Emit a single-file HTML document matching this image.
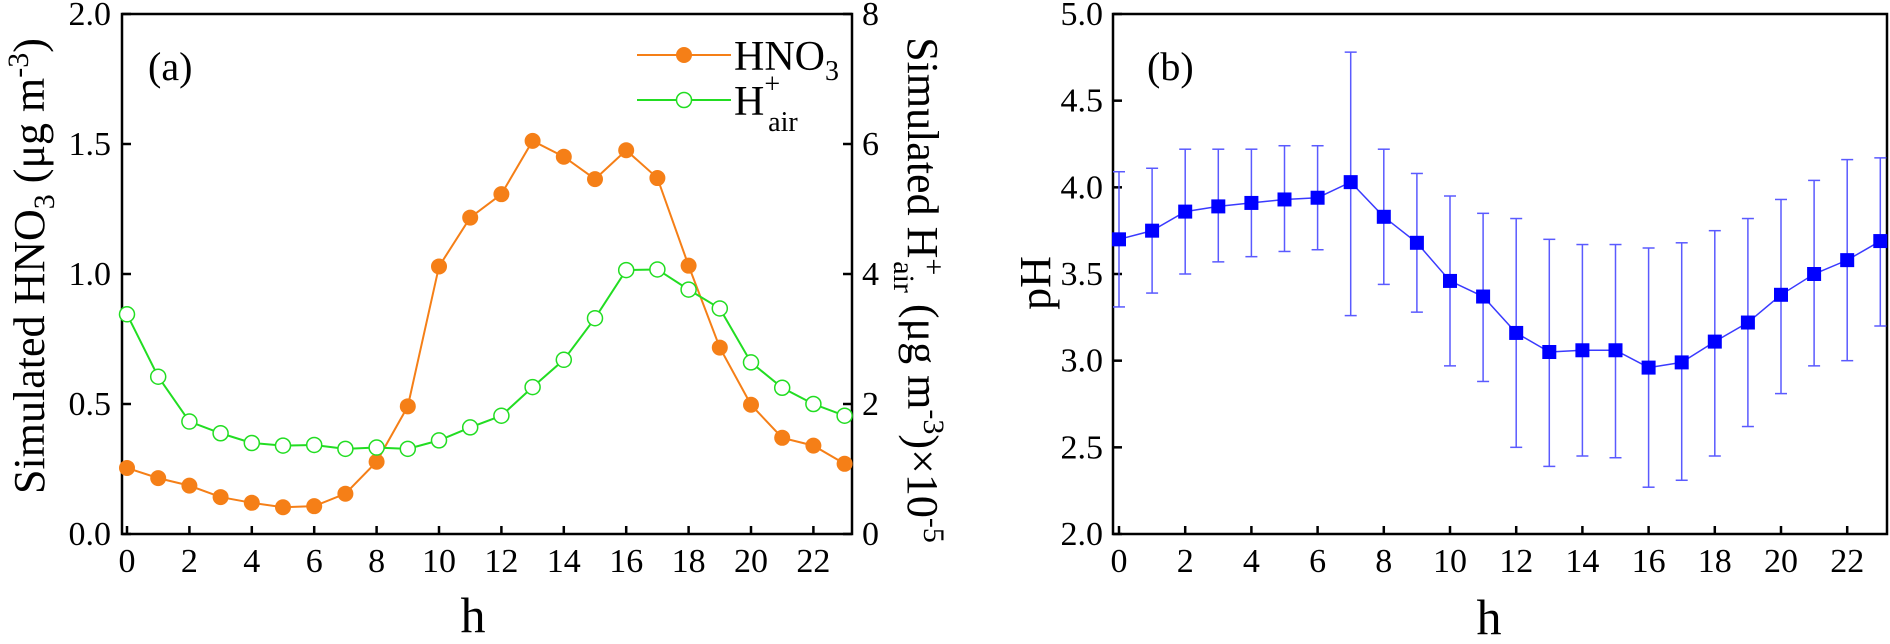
<!DOCTYPE html>
<html><head><meta charset="utf-8"><style>
html,body{margin:0;padding:0;background:#fff;}
svg{display:block;font-family:"Liberation Serif",serif;}
</style></head><body>
<svg id="fig" width="1890" height="644" viewBox="0 0 1890 644" xmlns="http://www.w3.org/2000/svg"></svg>
<script>
const hours = [0,1,2,3,4,5,6,7,8,9,10,11,12,13,14,15,16,17,18,19,20,21,22,23];
const hno3 = [0.254,0.215,0.186,0.142,0.12,0.103,0.107,0.155,0.278,0.491,1.029,1.217,1.307,1.512,1.451,1.365,1.476,1.369,1.032,0.717,0.497,0.37,0.34,0.27];
const hair = [3.38,2.42,1.73,1.55,1.40,1.36,1.37,1.31,1.33,1.31,1.44,1.64,1.82,2.26,2.68,3.32,4.06,4.07,3.76,3.47,2.64,2.25,2.00,1.82];
const ph = [3.70,3.75,3.86,3.89,3.91,3.93,3.94,4.03,3.83,3.68,3.46,3.37,3.16,3.05,3.06,3.06,2.96,2.99,3.11,3.22,3.38,3.50,3.58,3.69];
const phHigh = [4.09,4.11,4.22,4.22,4.22,4.24,4.24,4.78,4.22,4.08,3.95,3.85,3.82,3.70,3.67,3.67,3.65,3.68,3.75,3.82,3.93,4.04,4.16,4.17];
const phLow = [3.31,3.39,3.50,3.57,3.60,3.63,3.64,3.26,3.44,3.28,2.97,2.88,2.50,2.39,2.45,2.44,2.27,2.31,2.45,2.62,2.81,2.97,3.00,3.20];
const xTicks = [0,2,4,6,8,10,12,14,16,18,20,22];
const yTicksA = [0.0,0.5,1.0,1.5,2.0];
const yTicksA2 = [0,2,4,6,8];
const yTicksB = [2.0,2.5,3.0,3.5,4.0,4.5,5.0];

const NS="http://www.w3.org/2000/svg";
const svg=document.getElementById('fig');
function mk(tag,attrs,parent){const e=document.createElementNS(NS,tag);for(const k in attrs)e.setAttribute(k,attrs[k]);(parent||svg).appendChild(e);return e;}

// panel a scales
const aL=122,aR=852,aT=14,aB=534;
const ax=h=>127+h*31.2;
const ay=v=>aB-(v/2)*(aB-aT);
const ay2=v=>aB-(v/8)*(aB-aT);
// panel b scales
const bL=1113,bR=1887;
const bx=h=>1119+h*33.1;
const by=v=>aB-((v-2)/3)*(aB-aT);

// panel a
const gA=mk('g',{});


let fr=mk('rect',{x:aL,y:aT,width:aR-aL,height:aB-aT,fill:'none',stroke:'#000','stroke-width':2.5},gA);

xTicks.forEach(t=>{mk('line',{x1:ax(t),x2:ax(t),y1:aB,y2:aB-8,stroke:'#000','stroke-width':2.5},gA);
 const tx=mk('text',{x:ax(t),y:572,'font-size':34,'text-anchor':'middle'},gA);tx.textContent=t;
 });
yTicksA.forEach(t=>{mk('line',{x1:aL,x2:aL+9,y1:ay(t),y2:ay(t),stroke:'#000','stroke-width':2.5},gA);
 const tx=mk('text',{x:111,y:ay(t)+11,'font-size':34,'text-anchor':'end'},gA);tx.textContent=t.toFixed(1);
 });
yTicksA2.forEach(t=>{mk('line',{x1:aR,x2:aR-9,y1:ay2(t),y2:ay2(t),stroke:'#000','stroke-width':2.5},gA);
 const tx=mk('text',{x:862,y:ay2(t)+11,'font-size':34},gA);tx.textContent=t;
 });
// series
let p1=mk('polyline',{points:hours.map((h,i)=>ax(h)+','+ay(hno3[i])).join(' '),fill:'none',stroke:'#f57f17','stroke-width':2},gA);

let p2=mk('polyline',{points:hours.map((h,i)=>ax(h)+','+ay2(hair[i])).join(' '),fill:'none',stroke:'#22dd22','stroke-width':2},gA);

hours.forEach((h,i)=>{const c=mk('circle',{cx:ax(h),cy:ay(hno3[i]),r:8,fill:'#f57f17'},gA);
 });
hours.forEach((h,i)=>{const c=mk('circle',{cx:ax(h),cy:ay2(hair[i]),r:7.5,fill:'#fff',stroke:'#22dd22','stroke-width':1.5},gA);
 });
// labels
let t=mk('text',{x:148,y:80,'font-size':40},gA);t.textContent='(a)';
// legend
let lg=mk('g',{},gA);
mk('line',{x1:637,x2:731,y1:55,y2:55,stroke:'#f57f17','stroke-width':2},lg);
mk('circle',{cx:684,cy:55,r:8,fill:'#f57f17'},lg);
t=mk('text',{x:734,y:70,'font-size':42},lg);t.innerHTML='HNO<tspan font-size="28" dy="10">3</tspan>';

mk('line',{x1:637,x2:731,y1:100,y2:100,stroke:'#22dd22','stroke-width':2},lg);
mk('circle',{cx:684,cy:100,r:7.5,fill:'#fff',stroke:'#22dd22','stroke-width':1.5},lg);
t=mk('text',{x:734,y:115,'font-size':42},lg);t.innerHTML='H<tspan font-size="28" dy="-22">+</tspan><tspan font-size="28" dx="-12" dy="38">air</tspan>';

// axis titles
t=mk('text',{x:0,y:0,'font-size':44,'text-anchor':'middle',transform:'translate(44,266) rotate(-90)'},gA);
t.innerHTML='Simulated HNO<tspan font-size="30" dy="10">3</tspan><tspan dy="-10"> (μg m</tspan><tspan font-size="30" dy="-16">-3</tspan><tspan dy="16">)</tspan>';

t=mk('text',{x:0,y:0,'font-size':44,'text-anchor':'middle',transform:'translate(908,290) rotate(90)'},gA);
t.innerHTML='Simulated H<tspan font-size="30" dy="-16">+</tspan><tspan font-size="30" dx="-14" dy="30">air</tspan><tspan dy="-14"> (μg m</tspan><tspan font-size="30" dy="-16">-3</tspan><tspan dy="16">)×10</tspan><tspan font-size="30" dy="-16">-5</tspan>';

t=mk('text',{x:473,y:632,'font-size':50,'text-anchor':'middle'},gA);t.textContent='h';


// panel b
const gB=mk('g',{});


fr=mk('rect',{x:bL,y:aT,width:bR-bL,height:aB-aT,fill:'none',stroke:'#000','stroke-width':2.5},gB);

xTicks.forEach(tk=>{mk('line',{x1:bx(tk),x2:bx(tk),y1:aB,y2:aB-8,stroke:'#000','stroke-width':2.5},gB);
 const tx=mk('text',{x:bx(tk),y:572,'font-size':34,'text-anchor':'middle'},gB);tx.textContent=tk;
 });
yTicksB.forEach(tk=>{mk('line',{x1:bL,x2:bL+9,y1:by(tk),y2:by(tk),stroke:'#000','stroke-width':2.5},gB);
 const tx=mk('text',{x:1103,y:by(tk)+11,'font-size':34,'text-anchor':'end'},gB);tx.textContent=tk.toFixed(1);
 });
hours.forEach((h,i)=>{const eb=mk('g',{stroke:'#5a5aff','stroke-width':1.5},gB);
 
 mk('line',{x1:bx(h),x2:bx(h),y1:by(phHigh[i]),y2:by(phLow[i])},eb);
 mk('line',{x1:bx(h)-6,x2:bx(h)+6,y1:by(phHigh[i]),y2:by(phHigh[i])},eb);
 mk('line',{x1:bx(h)-6,x2:bx(h)+6,y1:by(phLow[i]),y2:by(phLow[i])},eb);});
p1=mk('polyline',{points:hours.map((h,i)=>bx(h)+','+by(ph[i])).join(' '),fill:'none',stroke:'#3a3aff','stroke-width':1.5},gB);

hours.forEach((h,i)=>{const r=mk('rect',{x:bx(h)-7,y:by(ph[i])-7,width:14,height:14,fill:'#0000ff'},gB);
 });
t=mk('text',{x:1147,y:80,'font-size':40},gB);t.textContent='(b)';
t=mk('text',{x:0,y:0,'font-size':44,'text-anchor':'middle',transform:'translate(1050,283) rotate(-90)'},gB);t.textContent='pH';

t=mk('text',{x:1489,y:634,'font-size':50,'text-anchor':'middle'},gB);t.textContent='h';

</script>
</body></html>
